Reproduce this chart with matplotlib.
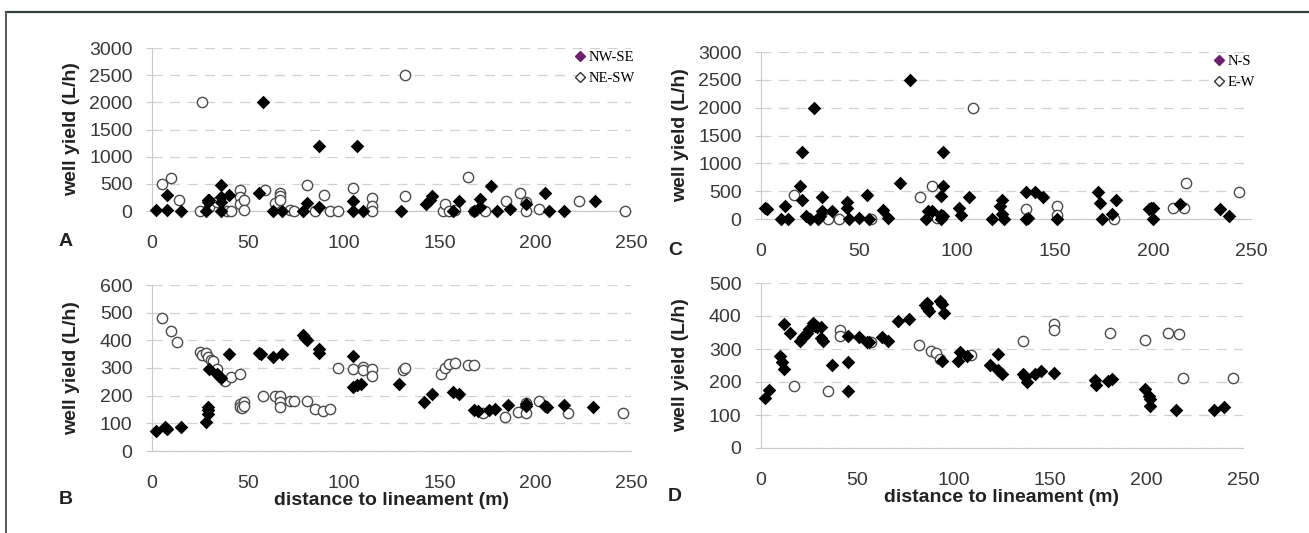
import numpy as np
import matplotlib.pyplot as plt
from matplotlib.lines import Line2D

# ---- panel A : NW-SE (filled) / NE-SW (open)
a_nwse_x = [2, 8, 8, 15, 28, 29, 30, 29, 36, 36, 36, 36, 40, 56, 58, 63, 68, 79, 81, 87,
            87, 105, 105, 107, 110, 130, 143, 145, 146, 157, 160, 168, 171, 171, 177, 180,
            187, 195, 205, 207, 215, 231]
a_nwse_y = [20, 20, 300, 0, 0, 170, 210, 200, 480, 260, 170, 0, 300, 340, 2000, 0, 0, 0, 140, 1200,
            70, 190, 0, 1200, 0, 0, 130, 200, 280, 0, 185, 0, 230, 80, 465, 0,
            40, 130, 325, 0, 0, 185]
a_nesw_x = [5, 10, 14, 25, 26, 30, 34, 39, 41, 46, 46, 46, 48, 48, 59, 64, 67, 67, 67, 72,
            74, 81, 85, 90, 93, 97, 105, 115, 115, 115, 132, 132, 152, 153, 155, 158, 165,
            168, 174, 185, 192, 195, 195, 202, 223, 247]
a_nesw_y = [490, 600, 210, 0, 2000, 80, 170, 0, 0, 390, 260, 130, 200, 20, 390, 140, 340, 280, 200, 20,
            0, 480, 0, 290, 0, 0, 430, 240, 100, 0, 2500, 280, 0, 130, 0, 10, 630,
            0, 0, 185, 325, 170, 0, 40, 185, 0]

# ---- panel B
b_nwse_x = [2, 7, 8, 15, 28, 29, 29, 29, 30, 34, 35, 36, 40, 56, 57, 63, 68, 79, 80, 81,
            87, 87, 105, 105, 107, 109, 129, 142, 146, 157, 160, 168, 170, 176, 179, 186,
            195, 195, 205, 206, 215, 230]
b_nwse_y = [73, 85, 78, 88, 104, 160, 150, 135, 295, 280, 270, 265, 350, 355, 350, 340, 350, 420, 410, 400,
            370, 355, 345, 232, 238, 242, 242, 178, 205, 214, 205, 148, 145, 148, 152, 166,
            170, 164, 164, 160, 166, 160]
b_nesw_x = [5, 10, 13, 25, 26, 28, 29, 31, 32, 34, 38, 41, 46, 46, 46, 47, 48, 48, 58, 64,
            67, 67, 67, 72, 74, 81, 85, 89, 93, 97, 105, 110, 110, 115, 115, 131, 132,
            151, 153, 155, 158, 165, 168, 173, 184, 191, 195, 195, 202, 217, 246]
b_nesw_y = [482, 435, 394, 358, 347, 353, 341, 329, 325, 298, 253, 269, 278, 170, 160, 154, 176, 163, 199, 199,
            199, 178, 160, 181, 181, 181, 152, 146, 152, 299, 295, 305, 293, 296, 271, 293, 299,
            278, 301, 313, 317, 310, 310, 139, 122, 142, 136, 175, 181, 139, 139]

# ---- panel C : N-S (filled) / E-W (open)
c_ns_x = [2, 3, 10, 12, 14, 20, 21, 21, 23, 25, 27, 29, 30, 31, 31, 36, 44, 44, 45, 50,
          54, 55, 62, 65, 71, 76, 84, 85, 87, 92, 93, 93, 92, 93, 92, 101, 102, 106,
          118, 122, 123, 123, 124, 135, 135, 136, 140, 144, 151, 172, 173, 174, 179, 181,
          198, 199, 200, 200, 214, 234, 239]
c_ns_y = [200, 180, 0, 240, 0, 600, 1200, 350, 60, 0, 2000, 0, 50, 150, 400, 150, 300, 190, 0, 20,
          440, 0, 160, 20, 640, 2500, 0, 150, 150, 410, 590, 1200, 0, 50, 80, 190, 70, 390,
          0, 230, 90, 340, 0, 480, 0, 10, 480, 390, 0, 480, 280, 0, 90, 340,
          180, 195, 190, 0, 270, 180, 50]
c_ew_x = [17, 34, 40, 56, 81, 87, 90, 92, 108, 135, 151, 151, 180, 210, 216, 217, 244]
c_ew_y = [440, 0, 0, 0, 400, 600, 20, 60, 2000, 180, 240, 80, 0, 190, 200, 640, 480]

# ---- panel D
d_ns_x = [2, 4, 10, 11, 12, 12, 15, 20, 22, 23, 24, 25, 27, 28, 29, 31, 31, 32, 37, 45,
          45, 45, 51, 55, 56, 63, 66, 71, 77, 85, 86, 87, 86, 93, 94, 95, 94, 102, 103,
          107, 119, 123, 123, 125, 136, 137, 138, 142, 145, 152, 173, 174, 180, 182, 199,
          201, 202, 202, 215, 235, 240]
d_ns_y = [152, 177, 280, 262, 375, 238, 348, 325, 335, 343, 350, 360, 380, 370, 368, 368, 332, 325, 252, 340,
          262, 172, 335, 320, 320, 335, 325, 385, 390, 432, 425, 415, 440, 445, 435, 408, 265, 265, 290,
          280, 252, 285, 235, 225, 225, 215, 200, 225, 232, 228, 205, 192, 202, 208, 178,
          158, 150, 128, 115, 115, 123]
d_ew_x = [17, 35, 41, 41, 57, 82, 88, 91, 93, 109, 136, 152, 152, 181, 199, 211, 217, 219, 245]
d_ew_y = [188, 173, 357, 340, 320, 313, 295, 288, 270, 282, 325, 377, 358, 350, 327, 350, 345, 212, 212]

W, H = 1309, 533
fig = plt.figure(figsize=(W / 100, H / 100), dpi=100)
plt.rcParams['font.family'] = ['Liberation Sans', 'DejaVu Sans']

# frame around the figure
fig.add_artist(Line2D([6 / W, 1], [1 - 12 / H, 1 - 12 / H], color='#34473a', lw=1.6))
fig.add_artist(Line2D([6 / W, 6 / W], [0, 1 - 12 / H], color='#555555', lw=1.4))


def px_rect(x0, x1, ytop, ybot):
    return [x0 / W, 1 - ybot / H, (x1 - x0) / W, (ybot - ytop) / H]


panels = [
    (px_rect(152, 631, 48, 211), a_nwse_x, a_nwse_y, a_nesw_x, a_nesw_y, 3000, 500, 'A', ('NW-SE', 'NE-SW')),
    (px_rect(152, 631, 285, 451), b_nwse_x, b_nwse_y, b_nesw_x, b_nesw_y, 600, 100, 'B', None),
    (px_rect(761, 1251, 52, 219), c_ns_x, c_ns_y, c_ew_x, c_ew_y, 3000, 500, 'C', ('N-S', 'E-W')),
    (px_rect(761, 1243, 283, 448), d_ns_x, d_ns_y, d_ew_x, d_ew_y, 500, 100, 'D', None),
]

for rect, fx, fy, ox, oy, ymax, ystep, letter, leg in panels:
    ax = fig.add_axes(rect)
    ax.scatter(ox, oy, s=55, marker='o', facecolor='white', edgecolor='#4a4a4a',
               linewidth=1.0, zorder=3, clip_on=False)
    ax.scatter(fx, fy, s=48, marker='D', color='black', linewidth=0, zorder=4, clip_on=False)
    ax.set_xlim(0, 250)
    ax.set_ylim(0, ymax)
    ax.set_xticks(np.arange(0, 251, 50))
    ax.set_yticks(np.arange(0, ymax + 1, ystep))
    ax.yaxis.grid(True, color='#d2d2d2', linestyle=(0, (8, 6)), linewidth=0.9)
    ax.set_axisbelow(True)
    for s in ['top', 'right']:
        ax.spines[s].set_visible(False)
    for s in ['left', 'bottom']:
        ax.spines[s].set_color('#c8c8c8')
    ax.tick_params(axis='y', length=4, color='#c8c8c8', labelsize=14, labelcolor='#383838', pad=10)
    ax.tick_params(axis='x', length=0, labelsize=14, labelcolor='#383838', pad=17)

    x0 = rect[0] * W
    yc = (1 - rect[1] - rect[3] / 2) * H
    fig.text((x0 - 80) / W, 1 - yc / H, 'well yield (L/h)', rotation=90, ha='center', va='center',
             fontsize=14, fontweight='bold', color='#222222')
    ybot = (1 - rect[1]) * H
    if letter in ('B', 'D'):
        ax.set_xlabel('distance to lineament (m)', fontsize=14, fontweight='bold',
                      color='#222222', labelpad=0)
        ly = ybot + 48
    else:
        ly = ybot + 31
    fig.text((x0 - 86) / W, 1 - ly / H, letter, ha='center', va='center',
             fontsize=14, fontweight='bold', color='#222222')
    if leg:
        h1 = Line2D([], [], marker='D', color='#6e1f6e', linestyle='none', markersize=5)
        h2 = Line2D([], [], marker='D', markerfacecolor='white', markeredgecolor='#333333',
                    linestyle='none', markersize=5)
        ax.legend([h1, h2], list(leg), loc='upper right', bbox_to_anchor=(1.02, 1.02), frameon=False,
                  prop={'family': 'Liberation Serif', 'size': 10.5}, handletextpad=0.1,
                  handlelength=1.0, labelspacing=0.55, borderaxespad=0.0)

fig.savefig('out.png', dpi=100)
